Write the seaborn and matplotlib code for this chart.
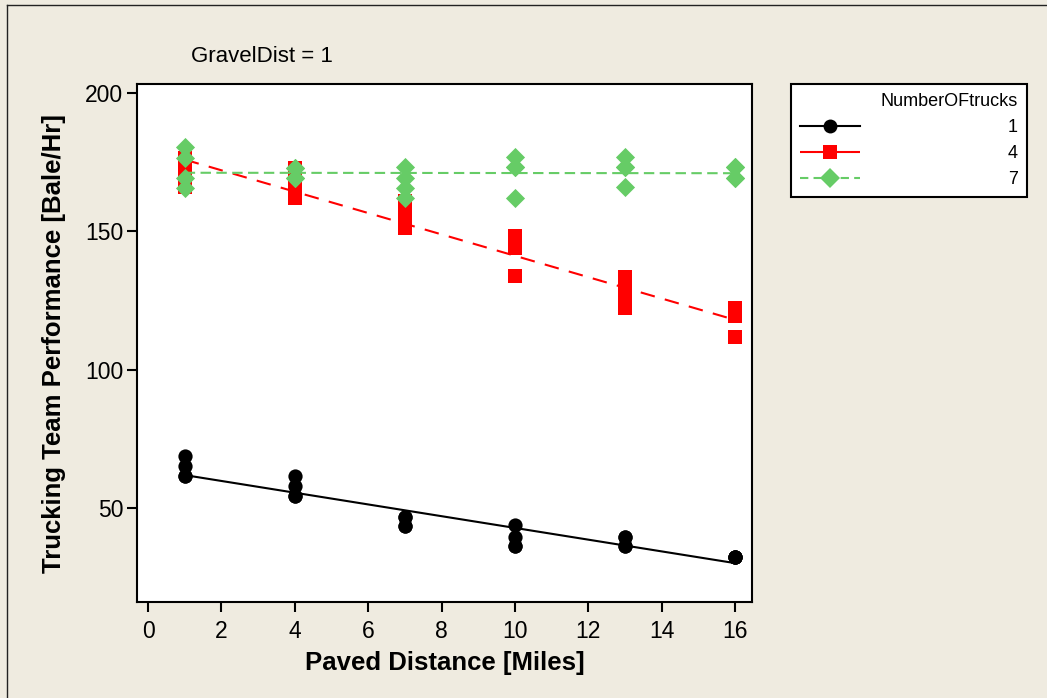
import numpy as np
import pandas as pd
import matplotlib
matplotlib.use("Agg")
import matplotlib.pyplot as plt
from matplotlib.lines import Line2D
import seaborn as sns

# Paved distance levels (miles) and team performance (bales/hr) per truck count
paved_miles = [1, 4, 7, 10, 13, 16]
trucks_levels = [1, 4, 7]

perf_trucks_1 = [
    [68.8, 65.2, 61.6, 61.6],
    [61.6, 58.0, 54.3, 54.3],
    [46.6, 46.6, 43.5, 43.5],
    [43.9, 39.6, 36.3, 36.3],
    [39.6, 39.6, 36.3, 36.3],
    [32.4, 32.4, 32.4, 32.4],
]
perf_trucks_4 = [
    [176.5, 173.0, 169.5, 166.0],
    [172.9, 169.0, 165.5, 162.0],
    [161.0, 157.0, 154.0, 151.3],
    [148.2, 146.0, 144.1, 133.7],
    [133.5, 129.8, 126.0, 122.4],
    [122.3, 119.3, 111.9, 111.9],
]
perf_trucks_7 = [
    [180.5, 176.5, 169.3, 165.6],
    [172.9, 172.9, 169.3, 169.3],
    [173.2, 169.3, 165.6, 162.0],
    [176.9, 173.2, 173.2, 162.0],
    [176.9, 173.2, 173.2, 166.0],
    [173.2, 173.2, 169.3, 169.3],
]

x_ticks = [0, 2, 4, 6, 8, 10, 12, 14, 16]
y_ticks = [50, 100, 150, 200]

rows = []
for n, series in zip(trucks_levels, [perf_trucks_1, perf_trucks_4, perf_trucks_7]):
    for x, vals in zip(paved_miles, series):
        for v in vals:
            rows.append({"PavedDist": x, "Performance": v, "NumberOFtrucks": n})
df = pd.DataFrame(rows)

plt.rcParams["font.family"] = ["Liberation Sans", "DejaVu Sans"]

bg = "#EFEBE0"
styles = {
    1: dict(color="black", marker="o", s=105, dashes=None),
    4: dict(color="#FF0000", marker="s", s=92, dashes=(7, 5)),
    7: dict(color="#66CC66", marker="D", s=95, dashes=(5, 2.6)),
}

fig = plt.figure(figsize=(10.47, 6.98), dpi=100, facecolor=bg)

# thin frame along the top and left edges of the graph window
fig.add_artist(Line2D([7 / 1047, 1.0], [1 - 5 / 698, 1 - 5 / 698], color="#222222", lw=1.0,
                      transform=fig.transFigure))
fig.add_artist(Line2D([7 / 1047, 7 / 1047], [0.0, 1 - 5 / 698], color="#222222", lw=1.0,
                      transform=fig.transFigure))

ax = fig.add_axes([137 / 1047, 1 - 602 / 698, (752 - 137) / 1047, (602 - 84) / 698])
ax.set_facecolor("white")

for i, n in enumerate(trucks_levels):
    st = styles[n]
    sub = df[df["NumberOFtrucks"] == n]
    line_kws = dict(color=st["color"], lw=1.5, zorder=2 + 2 * i)
    sns.regplot(data=sub, x="PavedDist", y="Performance", ax=ax, scatter=False,
                ci=None, truncate=True, line_kws=line_kws)
    ln = ax.lines[-1]
    if st["dashes"] is not None:
        ln.set_dashes(st["dashes"])
    sns.scatterplot(data=sub, x="PavedDist", y="Performance", ax=ax,
                    color=st["color"], marker=st["marker"], s=st["s"],
                    linewidth=0, zorder=3 + 2 * i, legend=False)

ax.set_xlim(-0.30, 16.46)
ax.set_ylim(16.0, 203.25)
ax.set_xticks(x_ticks)
ax.set_yticks(y_ticks)
ax.tick_params(direction="out", length=7, width=1.5, labelsize=16.5, colors="black")
ax.tick_params(axis="x", pad=6)
ax.tick_params(axis="y", pad=3)
for sp in ax.spines.values():
    sp.set_linewidth(1.5)
    sp.set_color("black")

ax.set_xlabel("Paved Distance [Miles]", fontsize=18.5, fontweight="bold")
ax.set_ylabel("Trucking Team Performance [Bale/Hr]", fontsize=18.5, fontweight="bold")
ax.xaxis.set_label_coords(0.5, (602 - 651) / 518)
ax.yaxis.set_label_coords((66 - 137) / 615, 0.5)

fig.text(262 / 1047, 1 - 57 / 698, "GravelDist = 1", fontsize=16, ha="center", va="center")

handles = []
for n in trucks_levels:
    st = styles[n]
    h = Line2D([0], [0], color=st["color"], lw=1.5, marker=st["marker"],
               markersize=10, markeredgewidth=0,
               linestyle="-" if st["dashes"] is None else "--")
    if st["dashes"] is not None:
        h.set_dashes((4, 2.5) if n == 7 else (8, 0.01))
    handles.append(h)

leg = fig.legend(handles, [str(n) for n in trucks_levels], loc="upper left",
                 bbox_to_anchor=(791 / 1047, 1 - 84 / 698), title="NumberOFtrucks",
                 alignment="right", frameon=True, fancybox=False, edgecolor="black",
                 facecolor="white", framealpha=1, fontsize=13, title_fontsize=13,
                 handlelength=3.3, handletextpad=8.2, borderpad=0.5, labelspacing=0.5,
                 borderaxespad=0)
leg.get_frame().set_linewidth(1.5)

fig.savefig("out.png", dpi=100, facecolor=bg)
